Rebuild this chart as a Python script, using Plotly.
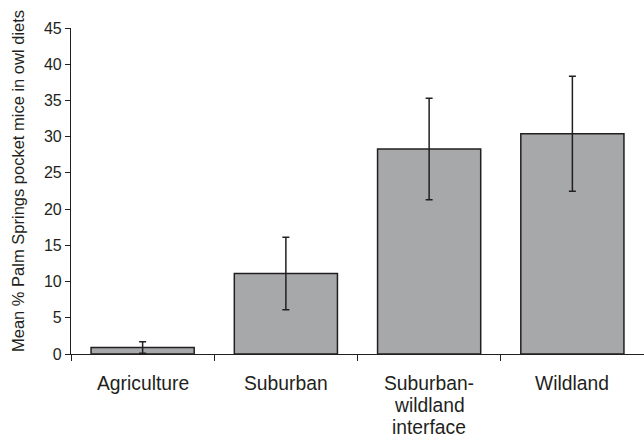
import plotly.graph_objects as go

categories = ["Agriculture", "Suburban", "Suburban-<br>wildland<br>interface", "Wildland"]
means = [0.9, 11.1, 28.3, 30.4]
errors = [0.8, 5.0, 7.0, 7.95]
y_ticks = [0, 5, 10, 15, 20, 25, 30, 35, 40, 45]
y_title = "Mean % Palm Springs pocket mice in owl diets"

fig = go.Figure(go.Bar(
    x=categories, y=means,
    marker=dict(color="#a7a8aa", line=dict(color="#231f20", width=1.5)),
    error_y=dict(type="data", array=errors, visible=True, color="#231f20", thickness=1.5, width=3.5),
    width=0.72,
))

fam = "Liberation Sans, Arial, sans-serif"
W, H = 644, 438
L, R, T, B = 71, 0, 28, 84
plot_h = H - T - B

# category labels drawn line by line (tighter line spacing than tick labels allow)
annotations = []
line_centers = [383.5, 405.8, 427.5]
for cat in categories:
    for i, line in enumerate(cat.split("<br>")):
        annotations.append(dict(
            text=line, xref="x", yref="paper", x=cat,
            y=(H - B - line_centers[i]) / plot_h,
            xanchor="center", yanchor="middle", showarrow=False,
            font=dict(family=fam, size=19.3, color="#231f20"),
        ))

annotations.append(dict(
    text=y_title, textangle=-90, xref="paper", yref="paper",
    x=-(L - 18) / (W - L - R), y=(H - B - 181) / plot_h,
    xanchor="center", yanchor="middle", showarrow=False,
    font=dict(family=fam, size=16.5, color="#231f20"),
))

fig.update_layout(
    width=W, height=H,
    margin=dict(l=L, r=R, t=T, b=B),
    paper_bgcolor="white", plot_bgcolor="white",
    font=dict(family=fam, size=16, color="#231f20"), showlegend=False,
    xaxis=dict(
        automargin=False,
        showline=True, linecolor="#231f20", linewidth=1.2,
        ticks="outside", tickson="boundaries", ticklen=6, tickcolor="#231f20", tickwidth=1,
        range=[-0.5, 3.5], showgrid=False, showticklabels=False,
    ),
    yaxis=dict(
        automargin=False,
        range=[0, 45], tickvals=y_ticks, showline=True, linecolor="#231f20", linewidth=1.2,
        ticks="outside", ticklen=5, tickcolor="#231f20", tickwidth=1, showgrid=False,
        zeroline=False,
        tickfont=dict(family=fam, size=16, color="#231f20"),
    ),
    annotations=annotations,
)

fig.write_html(
    "out.html",
    config={"displayModeBar": False},
    post_script="document.body.style.margin='0';document.body.style.padding='0';"
                "document.documentElement.style.overflow='hidden';",
)
